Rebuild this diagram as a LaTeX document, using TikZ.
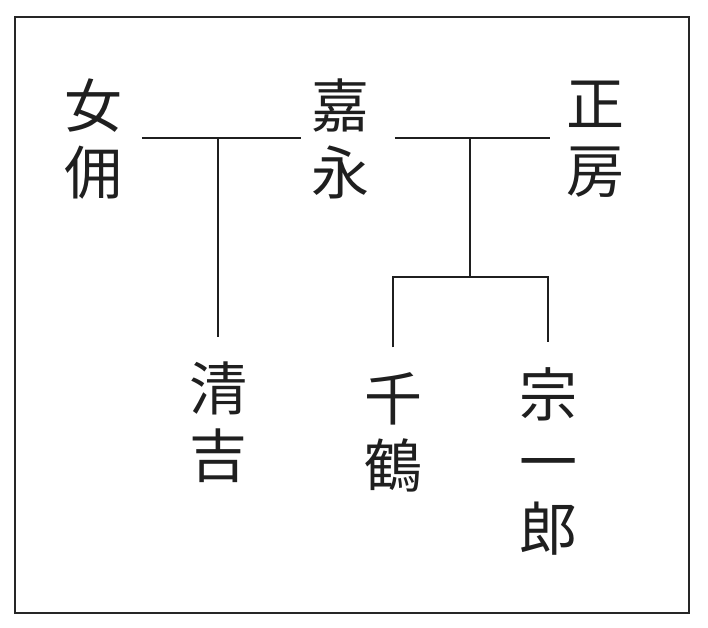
\documentclass[tikz,border=0pt]{standalone}
\usepackage{fontspec}
\newfontfamily\cjk{Noto Sans CJK JP}

\begin{document}
\begin{tikzpicture}[x=1pt, y=-1pt, line width=1.6pt, line cap=butt, line join=miter,
  person/.style={anchor=center, inner xsep=9pt, inner ysep=24pt, align=center,
    text=black!88, font=\cjk\fontsize{58}{67}\selectfont},
  link/.style={draw=black!88},
  frame/.style={line width=2.2pt, draw=black!85}]

  %% ════ 外枠 ════
  \draw[frame] (15,17) rectangle (689,613);

  %% ════ 人物（縦書き）════
  \node[person] (nyoyo)     at (93,139)  {女\\佣};
  \node[person] (kaei)      at (340,139) {嘉\\永};
  \node[person] (seibo)     at (595,139) {正\\房};
  \node[person] (kiyokichi) at (218,422) {清\\吉};
  \node[person] (chizuru)   at (393,432) {千\\鶴};
  \node[person] (soichiro)  at (548,461) {宗\\一\\郎};

  %% ════ 婚姻線・親子線 ════
  \coordinate (j1) at (218,138);   % 女佣—嘉永
  \coordinate (j2) at (470,138);   % 嘉永—正房
  \coordinate (j3) at (470,277);   % 子の分岐

  \draw[link, shorten <=10pt] (nyoyo.east |- j1) -- (kaei.west |- j1);
  \draw[link] (j1) -- (j1 |- kiyokichi.north);
  \draw[link, shorten <=16pt, shorten >=6pt] (kaei.east |- j2) -- (seibo.west |- j2);
  \draw[link] (j2) -- (j3);
  \draw[link] (chizuru.north) |- (j3) -| (soichiro.north);

  % 画布を固定
  \pgfresetboundingbox
  \path[use as bounding box] (0,0) rectangle (708,627);
\end{tikzpicture}
\end{document}
